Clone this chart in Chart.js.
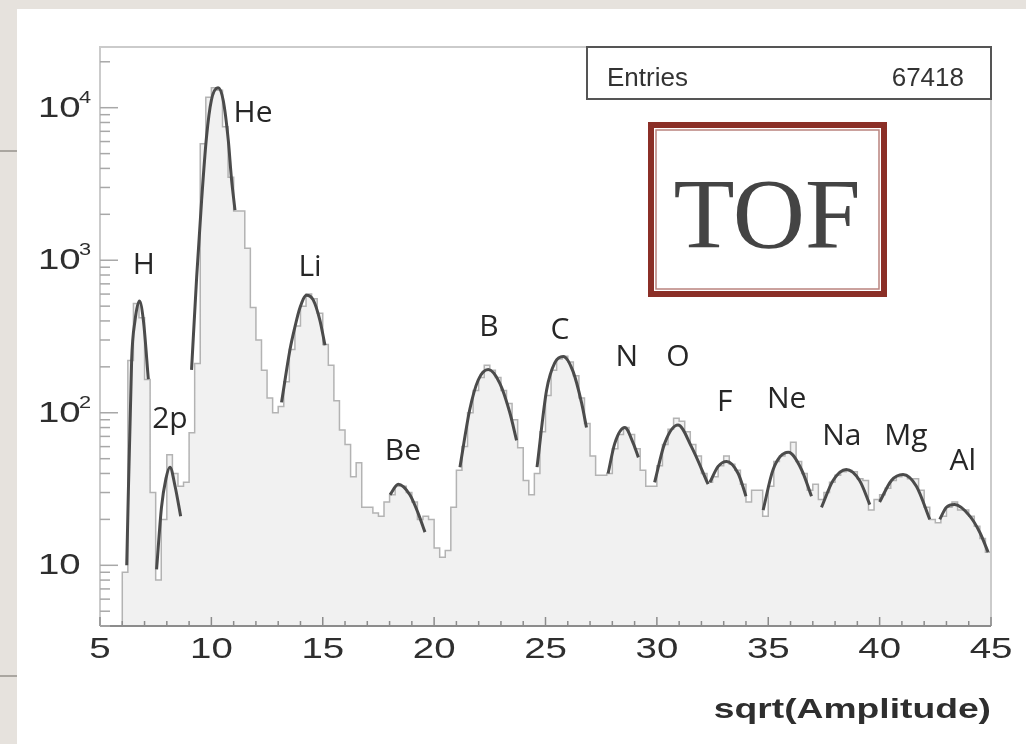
<!DOCTYPE html>
<html lang="en">
<head>
<meta charset="UTF-8">
<title>TOF charge spectrum</title>
<style>
  html, body { margin: 0; padding: 0; }
  body { width: 1026px; height: 744px; background: #e6e2dd; position: relative; overflow: hidden; }
  .card { position: absolute; left: 17px; top: 9px; right: 0; bottom: 0; background: #fff; }
  .rule { position: absolute; left: 0; width: 17px; height: 2px; background: #aaa6a0; }
  #tof { position: absolute; left: 0; top: 0; }
</style>
</head>
<body>
<div class="card"></div>
<div class="rule" style="top:150px"></div>
<div class="rule" style="top:675px"></div>
<canvas id="tof" width="1026" height="744"></canvas>

<script src="https://cdn.jsdelivr.net/npm/chart.js"></script>
<script>
// histogram: 0.25 wide bins starting at sqrt(Amplitude) = 6
var binStart = 6.0;
var binWidth = 0.25;
var counts = [
  9, 220, 520, 420, 165, 30, 8, 20, 53, 40, 33, 35,            // 6.00 - 8.75
  74, 210, 5800, 11700, 13500, 13000, 7500, 3500,             // 9.00 - 10.75
  2100, 2100, 1200, 490, 300, 190, 125, 100,                  // 11.00 - 12.75
  110, 160, 260, 370, 500, 600, 560, 450,                     // 13.00 - 14.75
  280, 205, 120, 77, 62, 38, 47, 24,                          // 15.00 - 16.75
  24, 22, 21, 26, 29, 33, 33, 30,                             // 17.00 - 18.75
  26, 20, 21, 20, 13, 11.3, 12.5, 24,                         // 19.00 - 20.75
  42, 60, 100, 140, 170, 205, 190, 170,                       // 21.00 - 22.75
  140, 115, 90, 59, 36, 29, 40, 75,                           // 23.00 - 24.75
  130, 190, 225, 235, 215, 175, 125, 85,                      // 25.00 - 26.75
  52, 39, 39, 40, 58, 72, 80, 72,                             // 27.00 - 28.75
  58, 42, 33, 33, 45, 62, 78, 92,                             // 29.00 - 30.75
  88, 75, 62, 52, 40, 35, 38, 45,                             // 31.00 - 32.75
  52, 46, 42, 34, 26, 31, 31, 21,                             // 33.00 - 34.75
  33, 48, 52, 55, 64, 48, 40, 31,                             // 35.00 - 36.75
  34, 27, 30, 35, 39, 41, 42, 41,                             // 37.00 - 38.75
  37, 36, 23, 27, 29, 32, 36, 38,                             // 39.00 - 40.75
  39, 37, 37, 31, 24, 20, 19, 21,                             // 41.00 - 42.75
  24, 26, 23, 23, 21, 18, 15, 12.2                            // 43.00 - 44.75
];

// fitted peaks, points [x, counts]
var fitH  = [[6.2, 10], [6.42, 220], [6.57, 400], [6.77, 540], [6.95, 400], [7.17, 166]];
var fit2p = [[7.54, 9.4], [7.76, 24], [7.96, 37], [8.14, 44], [8.37, 33], [8.62, 21]];
var fitHe = [[9.11, 191], [9.34, 777], [9.56, 2450], [9.78, 6400], [10.0, 11200], [10.3, 13500],
             [10.53, 11200], [10.76, 6100], [10.9, 3450], [11.06, 2130]];
var fitLi = [[13.15, 117], [13.53, 260], [13.75, 365], [13.98, 490], [14.27, 590], [14.57, 550], [14.87, 405], [15.1, 277]];
var fitBe = [[18.02, 29], [18.39, 34], [18.91, 29], [19.28, 22], [19.59, 16.5]];
var fitB  = [[21.16, 44], [21.6, 105], [21.98, 164], [22.43, 192], [22.95, 156], [23.4, 100], [23.7, 66]];
var fitC  = [[24.62, 44], [25.05, 141], [25.42, 213], [25.8, 234], [26.24, 186], [26.62, 116], [26.84, 80]];
var fitN  = [[27.81, 40], [28.11, 63], [28.56, 80], [28.94, 63], [29.17, 51]];
var fitO  = [[29.9, 35], [30.35, 63], [30.95, 83], [31.55, 60], [32.3, 34]];
var fitF  = [[32.38, 35], [32.75, 44.5], [33.13, 48], [33.65, 40], [34.0, 28.4]];
var fitNe = [[34.77, 23], [35.22, 42.5], [35.9, 55], [36.49, 42.5], [36.94, 28.4]];
var fitNa = [[37.39, 24], [37.91, 36], [38.5, 42.5], [39.1, 36], [39.56, 25]];
var fitMg = [[40.0, 26], [40.53, 36], [41.05, 39.4], [41.65, 33], [42.25, 20]];
var fitAl = [[42.7, 20], [43.0, 24], [43.37, 25], [44.05, 21], [44.5, 16.4], [44.87, 12.2]];

// peak labels
var labelNames = ['H', '2p', 'He', 'Li', 'Be', 'B', 'C', 'N', 'O', 'F', 'Ne', 'Na', 'Mg', 'Al'];
var labelX = [6.97, 8.14, 11.87, 14.43, 18.6, 22.46, 25.65, 28.65, 30.94, 33.05, 35.83, 38.3, 41.18, 43.73];
var labelY = [927, 90, 9120, 900, 56, 360, 349, 232, 232, 116, 122, 70, 70, 48];

// axes
var xTickLabels = [5, 10, 15, 20, 25, 30, 35, 40, 45];
var yTickValues = [10, 100, 1000, 10000];
var yTickExponents = ['', '2', '3', '4'];
var entries = '67418';

var yMin = 4, yMax = 25000;

var histPoints = [{x: binStart, y: yMin}];
counts.forEach(function(c, i) { histPoints.push({x: binStart + i * binWidth, y: c}); });
var histEnd = binStart + counts.length * binWidth;
histPoints.push({x: histEnd, y: counts[counts.length - 1]});
histPoints.push({x: histEnd, y: yMin});

function fitSet(pts) {
  return {
    data: pts.map(function(p) { return {x: p[0], y: p[1]}; }),
    borderColor: '#4b4b4b',
    borderWidth: 3,
    pointRadius: 0,
    fill: false,
    cubicInterpolationMode: 'monotone',
    order: 0
  };
}

var SX = 1.28; // the axis text in the picture is horizontally stretched

function wideText(ctx, text, x, y, font, align, sx) {
  ctx.save();
  ctx.font = font;
  ctx.textAlign = align;
  ctx.textBaseline = 'alphabetic';
  ctx.translate(x, y);
  ctx.scale(sx, 1);
  ctx.fillText(text, 0, 0);
  ctx.restore();
}

var rootStyle = {
  id: 'rootStyle',
  afterDatasetsDraw: function(chart) {
    var ctx = chart.ctx, a = chart.chartArea;
    var xs = chart.scales.x, ys = chart.scales.y;
    ctx.save();

    // frame
    ctx.lineWidth = 2;
    ctx.strokeStyle = '#cbcbcb';
    ctx.beginPath();
    ctx.moveTo(a.left, a.bottom);
    ctx.lineTo(a.left, a.top);
    ctx.lineTo(a.right, a.top);
    ctx.lineTo(a.right, a.bottom);
    ctx.stroke();
    ctx.strokeStyle = '#8c8c8c';
    ctx.beginPath();
    ctx.moveTo(a.left, a.bottom);
    ctx.lineTo(a.right, a.bottom);
    ctx.stroke();

    // x ticks, inside
    ctx.lineWidth = 1.5;
    ctx.strokeStyle = '#8c8c8c';
    for (var v = xs.min; v <= xs.max; v++) {
      var px = xs.getPixelForValue(v);
      var len = (v % 5 === 0) ? 9 : 5;
      ctx.beginPath();
      ctx.moveTo(px, a.bottom);
      ctx.lineTo(px, a.bottom - len);
      ctx.stroke();
    }

    // y ticks, inside
    ctx.strokeStyle = '#a8a8a8';
    for (var d = 0; d <= 4; d++) {
      for (var m = 1; m <= 9; m++) {
        var val = m * Math.pow(10, d);
        if (val < ys.min || val > ys.max) continue;
        var py = ys.getPixelForValue(val);
        ctx.beginPath();
        ctx.moveTo(a.left, py);
        ctx.lineTo(a.left + (m === 1 ? 18 : 10), py);
        ctx.stroke();
      }
    }

    // tick labels
    ctx.fillStyle = '#2e2e2e';
    xTickLabels.forEach(function(t) {
      wideText(ctx, String(t), xs.getPixelForValue(t), 658, '30px "Liberation Sans", Arial, sans-serif', 'center', SX);
    });
    yTickValues.forEach(function(t, i) {
      var py = ys.getPixelForValue(t);
      wideText(ctx, '10', 38, py + 9, '30px "Liberation Sans", Arial, sans-serif', 'left', SX);
      if (yTickExponents[i]) {
        wideText(ctx, yTickExponents[i], 79, py - 5, '17px "Liberation Sans", Arial, sans-serif', 'left', SX);
      }
    });
    wideText(ctx, 'sqrt(Amplitude)', a.right, 718, 'bold 28px "Liberation Sans", Arial, sans-serif', 'right', 1.33);

    // peak labels
    ctx.font = '30px "Open Sans", sans-serif';
    ctx.textAlign = 'center';
    ctx.textBaseline = 'middle';
    ctx.fillStyle = '#262626';
    labelNames.forEach(function(n, i) {
      ctx.fillText(n, xs.getPixelForValue(labelX[i]), ys.getPixelForValue(labelY[i]));
    });

    // stats box
    ctx.fillStyle = '#fff';
    ctx.fillRect(587, 47, 404, 52);
    ctx.strokeStyle = '#555';
    ctx.lineWidth = 2;
    ctx.strokeRect(587, 47, 404, 52);
    ctx.fillStyle = '#333';
    ctx.font = '26px "Liberation Sans", Arial, sans-serif';
    ctx.textBaseline = 'alphabetic';
    ctx.textAlign = 'left';
    ctx.fillText('Entries', 607, 86);
    ctx.textAlign = 'right';
    ctx.fillText(entries, 964, 86);

    // TOF stamp
    ctx.fillStyle = '#fff';
    ctx.fillRect(651, 125, 233, 169);
    ctx.strokeStyle = '#8b2f27';
    ctx.lineWidth = 6;
    ctx.strokeRect(651, 125, 233, 169);
    ctx.globalAlpha = 0.6;
    ctx.lineWidth = 1.5;
    ctx.strokeRect(656, 130, 223, 159);
    ctx.globalAlpha = 1;
    ctx.fillStyle = '#444';
    ctx.font = '100px "Liberation Serif", "Times New Roman", serif';
    ctx.textAlign = 'center';
    ctx.fillText('TOF', 767, 247);

    ctx.restore();
  }
};

new Chart(document.getElementById('tof').getContext('2d'), {
  type: 'line',
  data: {
    datasets: [
      {
        data: histPoints,
        stepped: true,
        borderColor: '#b3b3b3',
        borderWidth: 1.5,
        backgroundColor: '#f1f1f1',
        fill: 'start',
        pointRadius: 0,
        order: 10
      },
      fitSet(fitH), fitSet(fit2p), fitSet(fitHe), fitSet(fitLi), fitSet(fitBe),
      fitSet(fitB), fitSet(fitC), fitSet(fitN), fitSet(fitO), fitSet(fitF),
      fitSet(fitNe), fitSet(fitNa), fitSet(fitMg), fitSet(fitAl)
    ]
  },
  options: {
    responsive: false,
    animation: false,
    layout: { padding: { left: 100, right: 35, top: 47, bottom: 118 } },
    plugins: { legend: { display: false }, tooltip: { enabled: false } },
    scales: {
      x: { type: 'linear', min: 5, max: 45, display: false },
      y: { type: 'logarithmic', min: yMin, max: yMax, display: false }
    }
  },
  plugins: [rootStyle]
});
</script>
</body>
</html>
